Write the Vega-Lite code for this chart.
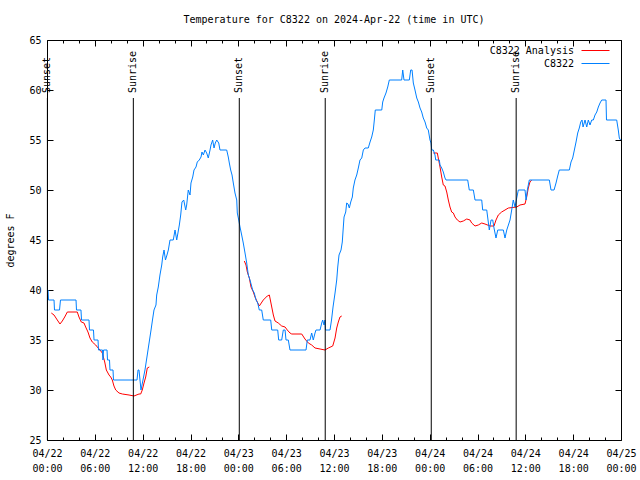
{
  "$schema": "https://vega.github.io/schema/vega-lite/v6.json",
  "width": 574,
  "height": 400,
  "autosize": "none",
  "padding": {"left": 47, "top": 40, "right": 19, "bottom": 40},
  "background": "white",
  "config": {
    "view": {"stroke": "black", "strokeWidth": 1},
    "font": "DejaVu Sans Mono",
    "axis": {"domain": false, "grid": false, "tickColor": "black", "labelColor": "black", "labelFont": "DejaVu Sans Mono", "labelFontSize": 10, "titleFont": "DejaVu Sans Mono", "titleFontSize": 10, "titleFontWeight": "normal", "titleColor": "black"}
  },
  "title": {"text": "Temperature for C8322 on 2024-Apr-22 (time in UTC)", "font": "DejaVu Sans Mono", "fontSize": 10, "fontWeight": "normal", "anchor": "middle", "frame": "group", "offset": 10, "color": "black"},
  "datasets": {
    "lines": [
      {"h":0.54,"t":37.7,"series":"C8322 Analysis","seg":"a1"},{"h":0.88,"t":37.5,"series":"C8322 Analysis","seg":"a1"},{"h":1.29,"t":37.0,"series":"C8322 Analysis","seg":"a1"},{"h":1.63,"t":36.6,"series":"C8322 Analysis","seg":"a1"},{"h":1.92,"t":36.9,"series":"C8322 Analysis","seg":"a1"},{"h":2.22,"t":37.3,"series":"C8322 Analysis","seg":"a1"},{"h":2.55,"t":37.8,"series":"C8322 Analysis","seg":"a1"},{"h":3.80,"t":37.8,"series":"C8322 Analysis","seg":"a1"},{"h":4.01,"t":37.3,"series":"C8322 Analysis","seg":"a1"},{"h":4.30,"t":36.8,"series":"C8322 Analysis","seg":"a1"},{"h":4.64,"t":36.7,"series":"C8322 Analysis","seg":"a1"},{"h":4.85,"t":36.3,"series":"C8322 Analysis","seg":"a1"},{"h":5.14,"t":35.8,"series":"C8322 Analysis","seg":"a1"},{"h":5.39,"t":35.2,"series":"C8322 Analysis","seg":"a1"},{"h":5.68,"t":34.8,"series":"C8322 Analysis","seg":"a1"},{"h":6.11,"t":34.5,"series":"C8322 Analysis","seg":"a1"},{"h":6.31,"t":34.3,"series":"C8322 Analysis","seg":"a1"},{"h":6.65,"t":34.0,"series":"C8322 Analysis","seg":"a1"},{"h":6.94,"t":33.7,"series":"C8322 Analysis","seg":"a1"},{"h":7.24,"t":32.8,"series":"C8322 Analysis","seg":"a1"},{"h":7.44,"t":32.0,"series":"C8322 Analysis","seg":"a1"},{"h":7.78,"t":31.5,"series":"C8322 Analysis","seg":"a1"},{"h":7.99,"t":31.3,"series":"C8322 Analysis","seg":"a1"},{"h":8.19,"t":31.0,"series":"C8322 Analysis","seg":"a1"},{"h":8.40,"t":30.4,"series":"C8322 Analysis","seg":"a1"},{"h":8.62,"t":30.0,"series":"C8322 Analysis","seg":"a1"},{"h":9.03,"t":29.7,"series":"C8322 Analysis","seg":"a1"},{"h":9.45,"t":29.6,"series":"C8322 Analysis","seg":"a1"},{"h":10.29,"t":29.5,"series":"C8322 Analysis","seg":"a1"},{"h":10.91,"t":29.4,"series":"C8322 Analysis","seg":"a1"},{"h":11.54,"t":29.6,"series":"C8322 Analysis","seg":"a1"},{"h":11.75,"t":29.6,"series":"C8322 Analysis","seg":"a1"},{"h":11.95,"t":30.0,"series":"C8322 Analysis","seg":"a1"},{"h":12.17,"t":30.7,"series":"C8322 Analysis","seg":"a1"},{"h":12.38,"t":31.3,"series":"C8322 Analysis","seg":"a1"},{"h":12.58,"t":32.2,"series":"C8322 Analysis","seg":"a1"},{"h":12.83,"t":32.3,"series":"C8322 Analysis","seg":"a1"},
      {"h":24.75,"t":42.9,"series":"C8322 Analysis","seg":"a2"},{"h":24.96,"t":42.5,"series":"C8322 Analysis","seg":"a2"},{"h":25.13,"t":41.8,"series":"C8322 Analysis","seg":"a2"},{"h":25.38,"t":41.2,"series":"C8322 Analysis","seg":"a2"},{"h":25.59,"t":40.3,"series":"C8322 Analysis","seg":"a2"},{"h":25.88,"t":39.8,"series":"C8322 Analysis","seg":"a2"},{"h":26.09,"t":39.3,"series":"C8322 Analysis","seg":"a2"},{"h":26.38,"t":38.8,"series":"C8322 Analysis","seg":"a2"},{"h":26.63,"t":38.4,"series":"C8322 Analysis","seg":"a2"},{"h":27.13,"t":39.0,"series":"C8322 Analysis","seg":"a2"},{"h":27.63,"t":39.4,"series":"C8322 Analysis","seg":"a2"},{"h":27.89,"t":39.5,"series":"C8322 Analysis","seg":"a2"},{"h":28.19,"t":38.3,"series":"C8322 Analysis","seg":"a2"},{"h":28.39,"t":37.5,"series":"C8322 Analysis","seg":"a2"},{"h":28.60,"t":36.9,"series":"C8322 Analysis","seg":"a2"},{"h":29.01,"t":36.7,"series":"C8322 Analysis","seg":"a2"},{"h":29.44,"t":36.4,"series":"C8322 Analysis","seg":"a2"},{"h":29.86,"t":36.3,"series":"C8322 Analysis","seg":"a2"},{"h":30.14,"t":36.0,"series":"C8322 Analysis","seg":"a2"},{"h":30.48,"t":35.7,"series":"C8322 Analysis","seg":"a2"},{"h":30.70,"t":35.6,"series":"C8322 Analysis","seg":"a2"},{"h":31.95,"t":35.6,"series":"C8322 Analysis","seg":"a2"},{"h":32.36,"t":35.1,"series":"C8322 Analysis","seg":"a2"},{"h":32.78,"t":34.7,"series":"C8322 Analysis","seg":"a2"},{"h":33.20,"t":34.5,"series":"C8322 Analysis","seg":"a2"},{"h":33.62,"t":34.2,"series":"C8322 Analysis","seg":"a2"},{"h":34.25,"t":34.1,"series":"C8322 Analysis","seg":"a2"},{"h":34.87,"t":34.0,"series":"C8322 Analysis","seg":"a2"},{"h":35.29,"t":34.2,"series":"C8322 Analysis","seg":"a2"},{"h":35.84,"t":34.4,"series":"C8322 Analysis","seg":"a2"},{"h":36.13,"t":35.2,"series":"C8322 Analysis","seg":"a2"},{"h":36.34,"t":36.2,"series":"C8322 Analysis","seg":"a2"},{"h":36.54,"t":36.8,"series":"C8322 Analysis","seg":"a2"},{"h":36.75,"t":37.3,"series":"C8322 Analysis","seg":"a2"},{"h":36.97,"t":37.4,"series":"C8322 Analysis","seg":"a2"},
      {"h":48.46,"t":53.7,"series":"C8322 Analysis","seg":"a3"},{"h":48.96,"t":53.7,"series":"C8322 Analysis","seg":"a3"},{"h":49.08,"t":53.2,"series":"C8322 Analysis","seg":"a3"},{"h":49.30,"t":52.3,"series":"C8322 Analysis","seg":"a3"},{"h":49.51,"t":51.3,"series":"C8322 Analysis","seg":"a3"},{"h":49.71,"t":50.5,"series":"C8322 Analysis","seg":"a3"},{"h":49.92,"t":50.4,"series":"C8322 Analysis","seg":"a3"},{"h":50.14,"t":49.8,"series":"C8322 Analysis","seg":"a3"},{"h":50.34,"t":49.0,"series":"C8322 Analysis","seg":"a3"},{"h":50.55,"t":48.3,"series":"C8322 Analysis","seg":"a3"},{"h":50.76,"t":47.8,"series":"C8322 Analysis","seg":"a3"},{"h":50.97,"t":47.7,"series":"C8322 Analysis","seg":"a3"},{"h":51.18,"t":47.3,"series":"C8322 Analysis","seg":"a3"},{"h":51.47,"t":47.0,"series":"C8322 Analysis","seg":"a3"},{"h":51.81,"t":46.8,"series":"C8322 Analysis","seg":"a3"},{"h":52.22,"t":46.9,"series":"C8322 Analysis","seg":"a3"},{"h":52.65,"t":47.1,"series":"C8322 Analysis","seg":"a3"},{"h":53.06,"t":47.0,"series":"C8322 Analysis","seg":"a3"},{"h":53.27,"t":46.7,"series":"C8322 Analysis","seg":"a3"},{"h":53.69,"t":46.4,"series":"C8322 Analysis","seg":"a3"},{"h":54.10,"t":46.5,"series":"C8322 Analysis","seg":"a3"},{"h":54.53,"t":46.7,"series":"C8322 Analysis","seg":"a3"},{"h":54.94,"t":46.6,"series":"C8322 Analysis","seg":"a3"},{"h":55.57,"t":46.4,"series":"C8322 Analysis","seg":"a3"},{"h":56.07,"t":46.4,"series":"C8322 Analysis","seg":"a3"},{"h":56.32,"t":47.0,"series":"C8322 Analysis","seg":"a3"},{"h":56.61,"t":47.5,"series":"C8322 Analysis","seg":"a3"},{"h":57.03,"t":47.8,"series":"C8322 Analysis","seg":"a3"},{"h":57.45,"t":48.0,"series":"C8322 Analysis","seg":"a3"},{"h":57.87,"t":48.2,"series":"C8322 Analysis","seg":"a3"},{"h":58.92,"t":48.3,"series":"C8322 Analysis","seg":"a3"},{"h":59.33,"t":48.5,"series":"C8322 Analysis","seg":"a3"},{"h":59.96,"t":48.6,"series":"C8322 Analysis","seg":"a3"},{"h":60.17,"t":49.3,"series":"C8322 Analysis","seg":"a3"},{"h":60.37,"t":50.2,"series":"C8322 Analysis","seg":"a3"},{"h":60.58,"t":50.8,"series":"C8322 Analysis","seg":"a3"},{"h":60.80,"t":51.0,"series":"C8322 Analysis","seg":"a3"},
      {"h":0.0,"t":40,"series":"C8322","seg":"b"},{"h":0.13,"t":40,"series":"C8322","seg":"b"},{"h":0.19,"t":39,"series":"C8322","seg":"b"},{"h":0.88,"t":39,"series":"C8322","seg":"b"},{"h":0.94,"t":38,"series":"C8322","seg":"b"},{"h":1.57,"t":38,"series":"C8322","seg":"b"},{"h":1.69,"t":39,"series":"C8322","seg":"b"},{"h":3.64,"t":39,"series":"C8322","seg":"b"},{"h":3.70,"t":38,"series":"C8322","seg":"b"},{"h":4.26,"t":38,"series":"C8322","seg":"b"},{"h":4.33,"t":37,"series":"C8322","seg":"b"},{"h":5.27,"t":37,"series":"C8322","seg":"b"},{"h":5.33,"t":36,"series":"C8322","seg":"b"},{"h":5.83,"t":36,"series":"C8322","seg":"b"},{"h":5.90,"t":35,"series":"C8322","seg":"b"},{"h":6.40,"t":35,"series":"C8322","seg":"b"},{"h":6.46,"t":34,"series":"C8322","seg":"b"},{"h":6.96,"t":34,"series":"C8322","seg":"b"},{"h":7.02,"t":33,"series":"C8322","seg":"b"},{"h":7.09,"t":34,"series":"C8322","seg":"b"},{"h":7.53,"t":34,"series":"C8322","seg":"b"},{"h":7.59,"t":33,"series":"C8322","seg":"b"},{"h":7.84,"t":33,"series":"C8322","seg":"b"},{"h":7.90,"t":32,"series":"C8322","seg":"b"},{"h":8.28,"t":32,"series":"C8322","seg":"b"},{"h":8.34,"t":31,"series":"C8322","seg":"b"},{"h":11.29,"t":31,"series":"C8322","seg":"b"},{"h":11.42,"t":32,"series":"C8322","seg":"b"},{"h":11.54,"t":32,"series":"C8322","seg":"b"},{"h":11.79,"t":30,"series":"C8322","seg":"b"},{"h":12.04,"t":31,"series":"C8322","seg":"b"},{"h":12.29,"t":32,"series":"C8322","seg":"b"},{"h":12.48,"t":33,"series":"C8322","seg":"b"},{"h":12.67,"t":34,"series":"C8322","seg":"b"},{"h":12.86,"t":35,"series":"C8322","seg":"b"},{"h":13.05,"t":36,"series":"C8322","seg":"b"},{"h":13.23,"t":37,"series":"C8322","seg":"b"},{"h":13.42,"t":38,"series":"C8322","seg":"b"},{"h":13.67,"t":38.5,"series":"C8322","seg":"b"},{"h":13.76,"t":39.5,"series":"C8322","seg":"b"},{"h":13.96,"t":40.3,"series":"C8322","seg":"b"},{"h":14.17,"t":41.5,"series":"C8322","seg":"b"},{"h":14.39,"t":42.5,"series":"C8322","seg":"b"},{"h":14.51,"t":43.3,"series":"C8322","seg":"b"},{"h":14.68,"t":44,"series":"C8322","seg":"b"},{"h":14.86,"t":43,"series":"C8322","seg":"b"},{"h":15.05,"t":43.5,"series":"C8322","seg":"b"},{"h":15.22,"t":44,"series":"C8322","seg":"b"},{"h":15.43,"t":45,"series":"C8322","seg":"b"},{"h":15.84,"t":45,"series":"C8322","seg":"b"},{"h":16.06,"t":46,"series":"C8322","seg":"b"},{"h":16.27,"t":45,"series":"C8322","seg":"b"},{"h":16.60,"t":46.5,"series":"C8322","seg":"b"},{"h":16.77,"t":47.5,"series":"C8322","seg":"b"},{"h":16.93,"t":48.8,"series":"C8322","seg":"b"},{"h":17.15,"t":49,"series":"C8322","seg":"b"},{"h":17.40,"t":48,"series":"C8322","seg":"b"},{"h":17.52,"t":48.5,"series":"C8322","seg":"b"},{"h":17.72,"t":50,"series":"C8322","seg":"b"},{"h":17.94,"t":49.5,"series":"C8322","seg":"b"},{"h":18.06,"t":50.7,"series":"C8322","seg":"b"},{"h":18.28,"t":51.3,"series":"C8322","seg":"b"},{"h":18.44,"t":52,"series":"C8322","seg":"b"},{"h":18.69,"t":52.3,"series":"C8322","seg":"b"},{"h":18.85,"t":52.8,"series":"C8322","seg":"b"},{"h":19.10,"t":53,"series":"C8322","seg":"b"},{"h":19.32,"t":53.3,"series":"C8322","seg":"b"},{"h":19.44,"t":53.8,"series":"C8322","seg":"b"},{"h":19.61,"t":53.5,"series":"C8322","seg":"b"},{"h":19.82,"t":54,"series":"C8322","seg":"b"},{"h":20.03,"t":53.7,"series":"C8322","seg":"b"},{"h":20.23,"t":53.2,"series":"C8322","seg":"b"},{"h":20.45,"t":54,"series":"C8322","seg":"b"},{"h":20.57,"t":54.5,"series":"C8322","seg":"b"},{"h":20.78,"t":55,"series":"C8322","seg":"b"},{"h":20.95,"t":54.2,"series":"C8322","seg":"b"},{"h":21.11,"t":54.7,"series":"C8322","seg":"b"},{"h":21.29,"t":55,"series":"C8322","seg":"b"},{"h":21.54,"t":54.7,"series":"C8322","seg":"b"},{"h":21.70,"t":54,"series":"C8322","seg":"b"},{"h":22.54,"t":54,"series":"C8322","seg":"b"},{"h":22.74,"t":53.3,"series":"C8322","seg":"b"},{"h":22.87,"t":52.7,"series":"C8322","seg":"b"},{"h":23.04,"t":52,"series":"C8322","seg":"b"},{"h":23.21,"t":51.5,"series":"C8322","seg":"b"},{"h":23.37,"t":50.7,"series":"C8322","seg":"b"},{"h":23.58,"t":49.7,"series":"C8322","seg":"b"},{"h":23.80,"t":49,"series":"C8322","seg":"b"},{"h":23.87,"t":47.7,"series":"C8322","seg":"b"},{"h":24.05,"t":47,"series":"C8322","seg":"b"},{"h":24.21,"t":46.3,"series":"C8322","seg":"b"},{"h":24.42,"t":45.5,"series":"C8322","seg":"b"},{"h":24.62,"t":44.7,"series":"C8322","seg":"b"},{"h":24.84,"t":43.7,"series":"C8322","seg":"b"},{"h":25.05,"t":42.7,"series":"C8322","seg":"b"},{"h":25.25,"t":41.5,"series":"C8322","seg":"b"},{"h":25.46,"t":41,"series":"C8322","seg":"b"},{"h":25.80,"t":40,"series":"C8322","seg":"b"},{"h":26.00,"t":39.7,"series":"C8322","seg":"b"},{"h":26.22,"t":39,"series":"C8322","seg":"b"},{"h":26.43,"t":38.7,"series":"C8322","seg":"b"},{"h":26.63,"t":38,"series":"C8322","seg":"b"},{"h":26.93,"t":38,"series":"C8322","seg":"b"},{"h":27.13,"t":37,"series":"C8322","seg":"b"},{"h":28.06,"t":37,"series":"C8322","seg":"b"},{"h":28.19,"t":36,"series":"C8322","seg":"b"},{"h":28.94,"t":36,"series":"C8322","seg":"b"},{"h":29.06,"t":35,"series":"C8322","seg":"b"},{"h":29.44,"t":35,"series":"C8322","seg":"b"},{"h":29.64,"t":36,"series":"C8322","seg":"b"},{"h":29.86,"t":36,"series":"C8322","seg":"b"},{"h":29.98,"t":35,"series":"C8322","seg":"b"},{"h":30.27,"t":35,"series":"C8322","seg":"b"},{"h":30.48,"t":34,"series":"C8322","seg":"b"},{"h":32.49,"t":34,"series":"C8322","seg":"b"},{"h":32.65,"t":35,"series":"C8322","seg":"b"},{"h":32.99,"t":35,"series":"C8322","seg":"b"},{"h":33.20,"t":35.7,"series":"C8322","seg":"b"},{"h":33.40,"t":35,"series":"C8322","seg":"b"},{"h":33.62,"t":35.7,"series":"C8322","seg":"b"},{"h":33.74,"t":36,"series":"C8322","seg":"b"},{"h":34.25,"t":36,"series":"C8322","seg":"b"},{"h":34.46,"t":36.7,"series":"C8322","seg":"b"},{"h":34.58,"t":37,"series":"C8322","seg":"b"},{"h":34.75,"t":36.5,"series":"C8322","seg":"b"},{"h":34.87,"t":37,"series":"C8322","seg":"b"},{"h":34.93,"t":36,"series":"C8322","seg":"b"},{"h":35.50,"t":36,"series":"C8322","seg":"b"},{"h":35.69,"t":37,"series":"C8322","seg":"b"},{"h":35.88,"t":38.3,"series":"C8322","seg":"b"},{"h":36.13,"t":39.7,"series":"C8322","seg":"b"},{"h":36.34,"t":41,"series":"C8322","seg":"b"},{"h":36.47,"t":42.3,"series":"C8322","seg":"b"},{"h":36.63,"t":43.5,"series":"C8322","seg":"b"},{"h":36.88,"t":44,"series":"C8322","seg":"b"},{"h":37.04,"t":44.8,"series":"C8322","seg":"b"},{"h":37.17,"t":46.3,"series":"C8322","seg":"b"},{"h":37.26,"t":47.3,"series":"C8322","seg":"b"},{"h":37.47,"t":47.8,"series":"C8322","seg":"b"},{"h":37.59,"t":48.7,"series":"C8322","seg":"b"},{"h":37.76,"t":48.6,"series":"C8322","seg":"b"},{"h":37.92,"t":48.2,"series":"C8322","seg":"b"},{"h":38.10,"t":48.8,"series":"C8322","seg":"b"},{"h":38.30,"t":49.3,"series":"C8322","seg":"b"},{"h":38.42,"t":50.2,"series":"C8322","seg":"b"},{"h":38.63,"t":51,"series":"C8322","seg":"b"},{"h":38.85,"t":51.5,"series":"C8322","seg":"b"},{"h":39.05,"t":52.2,"series":"C8322","seg":"b"},{"h":39.26,"t":53,"series":"C8322","seg":"b"},{"h":39.48,"t":53.2,"series":"C8322","seg":"b"},{"h":39.68,"t":54,"series":"C8322","seg":"b"},{"h":39.89,"t":54.2,"series":"C8322","seg":"b"},{"h":40.30,"t":54.2,"series":"C8322","seg":"b"},{"h":40.52,"t":54.8,"series":"C8322","seg":"b"},{"h":40.73,"t":55.3,"series":"C8322","seg":"b"},{"h":40.93,"t":56,"series":"C8322","seg":"b"},{"h":41.06,"t":57,"series":"C8322","seg":"b"},{"h":41.18,"t":58,"series":"C8322","seg":"b"},{"h":41.99,"t":58,"series":"C8322","seg":"b"},{"h":42.11,"t":58.8,"series":"C8322","seg":"b"},{"h":42.27,"t":59.2,"series":"C8322","seg":"b"},{"h":42.52,"t":59.7,"series":"C8322","seg":"b"},{"h":42.74,"t":60.3,"series":"C8322","seg":"b"},{"h":42.94,"t":61,"series":"C8322","seg":"b"},{"h":44.49,"t":61,"series":"C8322","seg":"b"},{"h":44.62,"t":62,"series":"C8322","seg":"b"},{"h":44.78,"t":61,"series":"C8322","seg":"b"},{"h":45.45,"t":61,"series":"C8322","seg":"b"},{"h":45.62,"t":62,"series":"C8322","seg":"b"},{"h":45.79,"t":62,"series":"C8322","seg":"b"},{"h":45.95,"t":60.7,"series":"C8322","seg":"b"},{"h":46.16,"t":60,"series":"C8322","seg":"b"},{"h":46.38,"t":59.2,"series":"C8322","seg":"b"},{"h":46.58,"t":58.8,"series":"C8322","seg":"b"},{"h":46.79,"t":58.2,"series":"C8322","seg":"b"},{"h":47.00,"t":57.8,"series":"C8322","seg":"b"},{"h":47.20,"t":57.2,"series":"C8322","seg":"b"},{"h":47.42,"t":56.8,"series":"C8322","seg":"b"},{"h":47.63,"t":56.2,"series":"C8322","seg":"b"},{"h":47.83,"t":56,"series":"C8322","seg":"b"},{"h":48.04,"t":55,"series":"C8322","seg":"b"},{"h":48.17,"t":54.7,"series":"C8322","seg":"b"},{"h":48.26,"t":54,"series":"C8322","seg":"b"},{"h":48.46,"t":54,"series":"C8322","seg":"b"},{"h":48.67,"t":53.5,"series":"C8322","seg":"b"},{"h":48.76,"t":53,"series":"C8322","seg":"b"},{"h":49.21,"t":53,"series":"C8322","seg":"b"},{"h":49.30,"t":52.5,"series":"C8322","seg":"b"},{"h":49.51,"t":52.2,"series":"C8322","seg":"b"},{"h":49.71,"t":51.8,"series":"C8322","seg":"b"},{"h":49.92,"t":51.2,"series":"C8322","seg":"b"},{"h":50.05,"t":51,"series":"C8322","seg":"b"},{"h":52.77,"t":51,"series":"C8322","seg":"b"},{"h":52.97,"t":50,"series":"C8322","seg":"b"},{"h":53.48,"t":50,"series":"C8322","seg":"b"},{"h":53.69,"t":49,"series":"C8322","seg":"b"},{"h":54.53,"t":49,"series":"C8322","seg":"b"},{"h":54.65,"t":48,"series":"C8322","seg":"b"},{"h":55.16,"t":48,"series":"C8322","seg":"b"},{"h":55.32,"t":47,"series":"C8322","seg":"b"},{"h":55.48,"t":46,"series":"C8322","seg":"b"},{"h":55.70,"t":47,"series":"C8322","seg":"b"},{"h":55.91,"t":47,"series":"C8322","seg":"b"},{"h":56.07,"t":46.2,"series":"C8322","seg":"b"},{"h":56.32,"t":45.2,"series":"C8322","seg":"b"},{"h":56.54,"t":46,"series":"C8322","seg":"b"},{"h":57.24,"t":46,"series":"C8322","seg":"b"},{"h":57.45,"t":45.2,"series":"C8322","seg":"b"},{"h":57.67,"t":46,"series":"C8322","seg":"b"},{"h":58.08,"t":47,"series":"C8322","seg":"b"},{"h":58.29,"t":48,"series":"C8322","seg":"b"},{"h":58.49,"t":49,"series":"C8322","seg":"b"},{"h":58.71,"t":48.3,"series":"C8322","seg":"b"},{"h":58.92,"t":49.2,"series":"C8322","seg":"b"},{"h":59.12,"t":50,"series":"C8322","seg":"b"},{"h":59.96,"t":50,"series":"C8322","seg":"b"},{"h":60.09,"t":49,"series":"C8322","seg":"b"},{"h":60.25,"t":50,"series":"C8322","seg":"b"},{"h":60.50,"t":51,"series":"C8322","seg":"b"},{"h":63.01,"t":51,"series":"C8322","seg":"b"},{"h":63.22,"t":50,"series":"C8322","seg":"b"},{"h":63.60,"t":50,"series":"C8322","seg":"b"},{"h":63.85,"t":50.7,"series":"C8322","seg":"b"},{"h":64.06,"t":51.4,"series":"C8322","seg":"b"},{"h":64.26,"t":52,"series":"C8322","seg":"b"},{"h":65.52,"t":52,"series":"C8322","seg":"b"},{"h":65.73,"t":52.8,"series":"C8322","seg":"b"},{"h":65.94,"t":53.2,"series":"C8322","seg":"b"},{"h":66.15,"t":54,"series":"C8322","seg":"b"},{"h":66.36,"t":54.8,"series":"C8322","seg":"b"},{"h":66.57,"t":55.7,"series":"C8322","seg":"b"},{"h":66.77,"t":56.2,"series":"C8322","seg":"b"},{"h":66.95,"t":56.8,"series":"C8322","seg":"b"},{"h":67.11,"t":57,"series":"C8322","seg":"b"},{"h":67.24,"t":56.3,"series":"C8322","seg":"b"},{"h":67.49,"t":57,"series":"C8322","seg":"b"},{"h":67.70,"t":56.3,"series":"C8322","seg":"b"},{"h":67.90,"t":57,"series":"C8322","seg":"b"},{"h":68.11,"t":56.5,"series":"C8322","seg":"b"},{"h":68.33,"t":57,"series":"C8322","seg":"b"},{"h":68.53,"t":57,"series":"C8322","seg":"b"},{"h":68.74,"t":57.5,"series":"C8322","seg":"b"},{"h":68.96,"t":57.8,"series":"C8322","seg":"b"},{"h":69.16,"t":58.3,"series":"C8322","seg":"b"},{"h":69.37,"t":58.7,"series":"C8322","seg":"b"},{"h":69.58,"t":59,"series":"C8322","seg":"b"},{"h":70.12,"t":59,"series":"C8322","seg":"b"},{"h":70.18,"t":57,"series":"C8322","seg":"b"},{"h":71.46,"t":57,"series":"C8322","seg":"b"},{"h":71.66,"t":56,"series":"C8322","seg":"b"},{"h":71.79,"t":55.2,"series":"C8322","seg":"b"},{"h":71.94,"t":55,"series":"C8322","seg":"b"}
    ],
    "sun": [
      {"h":0.05,"event":"Sunset"},
      {"h":10.83,"event":"Sunrise"},
      {"h":24.12,"event":"Sunset"},
      {"h":34.9,"event":"Sunrise"},
      {"h":48.2,"event":"Sunset"},
      {"h":58.85,"event":"Sunrise"}
    ]
  },
  "layer": [
    {
      "data": {"name": "lines"},
      "mark": {"type": "line", "strokeWidth": 1},
      "encoding": {
        "x": {"field": "h", "type": "quantitative", "scale": {"domain": [0, 72], "nice": false, "zero": false},
          "axis": {"orient": "bottom", "title": null, "values": [0,2,4,6,8,10,12,14,16,18,20,22,24,26,28,30,32,34,36,38,40,42,44,46,48,50,52,54,56,58,60,62,64,66,68,70,72],
            "tickSize": {"condition": {"test": "datum.value % 6 === 0", "value": -6}, "value": -3},
            "labelExpr": "datum.value % 6 === 0 ? ['04/' + (22 + floor(datum.value / 24)), (datum.value % 24 < 10 ? '0' : '') + (datum.value % 24) + ':00'] : ''",
            "labelPadding": 14, "labelLineHeight": 15, "labelFlush": false, "labelOverlap": false, "labelBound": false, "labelAlign": "center", "labelBaseline": "top"}},
        "y": {"field": "t", "type": "quantitative", "scale": {"domain": [25, 65], "nice": false, "zero": false},
          "axis": {"orient": "left", "title": "degrees F", "values": [25,30,35,40,45,50,55,60,65], "tickSize": -6, "labelPadding": 12,
            "titleAngle": 270, "titleAlign": "center", "titleBaseline": "middle", "titleX": -37, "titleY": 200}},
        "color": {"field": "series", "type": "nominal",
          "scale": {"domain": ["C8322 Analysis", "C8322"], "range": ["#ff0000", "#0080ff"]},
          "legend": {"title": null, "orient": "none", "legendX": 541, "legendY": 3, "symbolType": "M-2,0H2", "symbolSize": 196, "symbolStrokeWidth": 1,
            "labelAlign": "right", "labelOffset": -29, "labelFont": "DejaVu Sans Mono", "labelFontSize": 10, "labelColor": "black", "rowPadding": 0, "padding": 0}},
        "detail": {"field": "seg"}
      }
    },
    {
      "data": {"name": "sun"},
      "mark": {"type": "rule", "color": "black", "strokeWidth": 1},
      "encoding": {
        "x": {"field": "h", "type": "quantitative",
          "axis": {"orient": "top", "title": null, "labels": false, "values": [0,2,4,6,8,10,12,14,16,18,20,22,24,26,28,30,32,34,36,38,40,42,44,46,48,50,52,54,56,58,60,62,64,66,68,70,72],
            "tickSize": {"condition": {"test": "datum.value % 6 === 0", "value": -6}, "value": -3}}},
        "y": {"datum": 25, "type": "quantitative", "axis": {"orient": "right", "title": null, "labels": false, "values": [25,30,35,40,45,50,55,60,65], "tickSize": -6}},
        "y2": {"datum": 59.2}
      }
    },
    {
      "data": {"name": "sun"},
      "mark": {"type": "text", "angle": 270, "align": "left", "baseline": "middle", "fontSize": 10, "font": "DejaVu Sans Mono", "color": "black"},
      "encoding": {
        "x": {"field": "h", "type": "quantitative", "axis": null},
        "y": {"datum": 59.7, "type": "quantitative", "axis": null},
        "text": {"field": "event"}
      }
    }
  ],
  "resolve": {"axis": {"x": "independent", "y": "independent"}}
}
